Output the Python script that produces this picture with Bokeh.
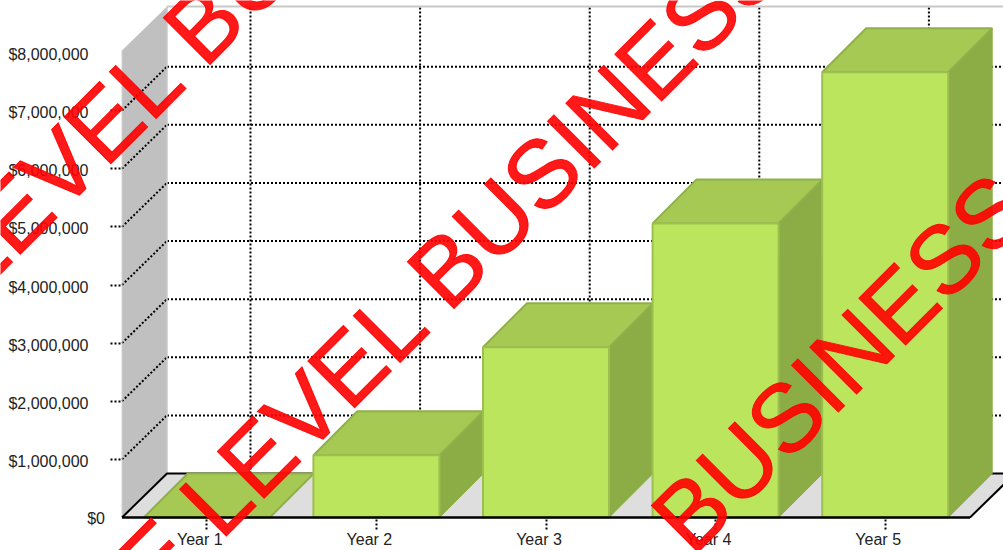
from bokeh.embed import file_html
from bokeh.resources import INLINE
from bokeh.plotting import figure
from bokeh.models import FixedTicker, NumeralTickFormatter, Label, Range1d, LinearAxis

# Projected revenue per year, in dollars
years = ["Year 1", "Year 2", "Year 3", "Year 4", "Year 5"]
revenue = [0, 1070000, 2930000, 5060000, 7660000]
grid_values = [1000000, 2000000, 3000000, 4000000, 5000000, 6000000, 7000000]
label_values = [1000000, 2000000, 3000000, 4000000, 5000000, 6000000, 7000000, 8000000]
stamp_phrase = "ENTERPRISE LEVEL BUSINESS"

PLOT_W, PLOT_H = 1003, 550
ORIGIN_X, ORIGIN_Y = 121.5, 517  # canvas position of the front-left floor corner
X_UNIT = 169.6          # pixels per category slot
Y_UNIT = 58.125 / 1e6   # pixels per dollar
AXIS_X = -1.5 / X_UNIT  # where the tick marks start, just off the box
AXIS_Y = -2 / Y_UNIT
WALL_DX = 45 / X_UNIT   # oblique offset of the rear plane
GRID_DX = 43.7 / X_UNIT
BAR_DX = 44 / X_UNIT
DEPTH_Y = 44 / Y_UNIT
BAR_W = 126 / X_UNIT
WALL_TOP = 8035000
SLOTS = len(years)

x_start = -ORIGIN_X / X_UNIT
x_end = x_start + PLOT_W / X_UNIT
y_start = -(PLOT_H - ORIGIN_Y) / Y_UNIT
y_end = y_start + PLOT_H / Y_UNIT

# The frame fills the canvas and the axes are pinned inside it, so the stamp runs to the page edges
p = figure(
    width=PLOT_W, height=PLOT_H, output_backend="svg", toolbar_location=None,
    x_range=Range1d(x_start, x_end), y_range=Range1d(y_start, y_end),
    x_axis_type=None, y_axis_type=None,
    min_border=0, background_fill_color="white", border_fill_color="white", outline_line_color=None,
)
p.grid.visible = False

label_font = "Liberation Sans"
label_size = "16px"
label_color = "#222222"

# Text labels sit slightly off their tick marks, so they get their own shifted ranges
p.extra_x_ranges = {"labels": Range1d(x_start + 7 / X_UNIT, x_end + 7 / X_UNIT)}
p.extra_y_ranges = {"labels": Range1d(y_start + 2 / Y_UNIT, y_end + 2 / Y_UNIT)}

slot_centres = [i + 0.5 for i in range(SLOTS)]


def style_tick_axis(ax, length):
    ax.axis_line_color = None
    ax.minor_tick_line_color = None
    ax.major_tick_in = 0
    ax.major_tick_out = length
    ax.major_tick_line_color = "black"
    ax.major_tick_line_width = 2
    ax.major_tick_line_dash = "2 2"
    ax.major_label_standoff = 0
    ax.major_label_text_font_size = "0px"


def style_label_axis(ax, standoff):
    ax.axis_line_color = None
    ax.minor_tick_line_color = None
    ax.major_tick_line_color = None
    ax.major_tick_in = 0
    ax.major_tick_out = 0
    ax.major_label_standoff = standoff
    ax.major_label_text_font = label_font
    ax.major_label_text_font_size = label_size
    ax.major_label_text_color = label_color


y_ticks = LinearAxis(ticker=FixedTicker(ticks=grid_values), fixed_location=AXIS_X,
                     major_label_overrides={v: "" for v in grid_values})
style_tick_axis(y_ticks, 10)
p.add_layout(y_ticks, "left")

x_ticks = LinearAxis(ticker=FixedTicker(ticks=slot_centres), fixed_location=AXIS_Y,
                     major_label_overrides={v: "" for v in slot_centres})
style_tick_axis(x_ticks, 10)
p.add_layout(x_ticks, "below")

y_labels = LinearAxis(y_range_name="labels", ticker=FixedTicker(ticks=label_values),
                      fixed_location=AXIS_X, formatter=NumeralTickFormatter(format="$0,0"))
style_label_axis(y_labels, 32)
p.add_layout(y_labels, "left")

x_labels = LinearAxis(x_range_name="labels", ticker=FixedTicker(ticks=slot_centres), fixed_location=AXIS_Y,
                      major_label_overrides={v: y for v, y in zip(slot_centres, years)})
style_label_axis(x_labels, 11)
p.add_layout(x_labels, "below")

# Side wall and floor of the oblique box
p.patch([0, WALL_DX, WALL_DX, 0], [0, DEPTH_Y, DEPTH_Y + WALL_TOP, WALL_TOP], fill_color="#c0c0c0", line_color=None)
p.patch([0, WALL_DX, SLOTS + WALL_DX, SLOTS], [0, DEPTH_Y, DEPTH_Y, 0], fill_color="#dedede", line_color=None)

# Rear wall grid: dotted lines across the wall and down the side wall
for v in grid_values:
    p.line([WALL_DX, SLOTS + WALL_DX], [v + DEPTH_Y] * 2, line_color="black", line_width=2, line_dash="2 2")
    p.line([0, WALL_DX], [v, v + DEPTH_Y], line_color="black", line_width=2, line_dash="2 2")
for c in slot_centres:
    p.line([c + GRID_DX] * 2, [DEPTH_Y, WALL_TOP + DEPTH_Y], line_color="black", line_width=2, line_dash="2 2")

# Box edges
p.line([WALL_DX, SLOTS + WALL_DX], [WALL_TOP + DEPTH_Y] * 2, line_color="#c8c8c8", line_width=2)
p.line([WALL_DX, WALL_DX], [DEPTH_Y, WALL_TOP + DEPTH_Y], line_color="#c8c8c8", line_width=1.5)
p.line([0, 0], [0, WALL_TOP], line_color="#d0d0d0", line_width=1)
p.line([0, WALL_DX, SLOTS + WALL_DX], [0, DEPTH_Y, DEPTH_Y], line_color="black", line_width=2)
p.line([SLOTS, SLOTS + WALL_DX], [0, DEPTH_Y], line_color="black", line_width=2)

# Extruded bars: side, top, then front face
edge = "#8fb04a"
for c, v in zip(slot_centres, revenue):
    x0 = c - BAR_W / 2
    x1 = c + BAR_W / 2
    p.patch([x1, x1 + BAR_DX, x1 + BAR_DX, x1], [0, DEPTH_Y, v + DEPTH_Y, v],
            fill_color="#8cad46", line_color="#8cad46", line_width=1)
    p.patch([x0, x1, x1 + BAR_DX, x0 + BAR_DX], [v, v, v + DEPTH_Y, v + DEPTH_Y],
            fill_color="#a5c952", line_color=edge, line_width=2)
    if v > 0:
        p.quad(left=x0, right=x1, bottom=0, top=v, fill_color="#bce55e", line_color="#9dbf4f", line_width=2)

# Floor front edge sits over the bar feet
p.line([0, SLOTS], [0, 0], line_color="black", line_width=2.5)

p.add_layout(Label(x=0, y=0, x_offset=-17, y_offset=-1, text="$0", text_align="right", text_baseline="middle",
                   level="overlay", text_font=label_font, text_font_size=label_size, text_color=label_color))

# Diagonal stamp repeated across the chart
STAMP_ORIGINS = [(-3.664, -3596000), (-2.226, -7794000), (-0.787, -11991000)]
for sx, sy in STAMP_ORIGINS:
    p.add_layout(Label(x=sx, y=sy, text=stamp_phrase, angle=45, angle_units="deg",
                       text_align="left", text_baseline="alphabetic", level="overlay",
                       text_font=label_font, text_font_size="96px",
                       text_color="#ff0000", text_alpha=0.9,
                       text_outline_color="#ff0000"))

open("out.html", "w").write(file_html(p, INLINE))
